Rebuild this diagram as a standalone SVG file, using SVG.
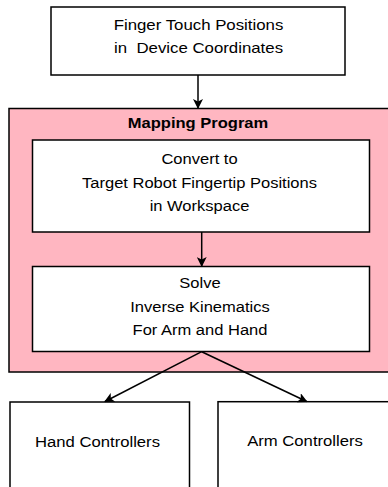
<svg xmlns="http://www.w3.org/2000/svg" width="388" height="487" viewBox="0 0 388 487">
<style>
.box{fill:#fff;stroke:#000;stroke-width:1.5}
.grp{fill:#FFB6C1;stroke:#000;stroke-width:1.5}
.t{font-family:"Liberation Sans",Arial,Helvetica,sans-serif;font-size:14.5px;fill:#000;text-anchor:middle}
.b{font-weight:bold}
.pre{white-space:pre}
.c{fill:none;stroke:#000;stroke-width:1.5}
</style>
<defs>
<marker id="ah" markerWidth="10" markerHeight="10" refX="9" refY="5" orient="auto" markerUnits="userSpaceOnUse">
<path d="M0,0 L10,5 L0,10 L2.5,5 Z" fill="#000"/>
</marker>
</defs>
<g id="mapping">
<rect class="grp" x="9" y="108.5" width="385" height="263.5"/>
<text class="t b" transform="translate(198,128.3) scale(1.14,1)">Mapping Program</text>
</g>
<g id="touch">
<rect class="box" x="51" y="7" width="294" height="68"/>
<text class="t" transform="translate(198.5,29.5) scale(1.16,1)">Finger Touch Positions</text>
<text class="t pre" transform="translate(198.5,53) scale(1.16,1)">in  Device Coordinates</text>
</g>
<g id="convert">
<rect class="box" x="32.5" y="140" width="337" height="92"/>
<text class="t" transform="translate(199.5,164.3) scale(1.14,1)">Convert to</text>
<text class="t" transform="translate(199.5,187.7) scale(1.14,1)">Target Robot Fingertip Positions</text>
<text class="t" transform="translate(199.5,211) scale(1.14,1)">in Workspace</text>
</g>
<g id="solve">
<rect class="box" x="32.5" y="266.5" width="337" height="85"/>
<text class="t" transform="translate(200,287.7) scale(1.14,1)">Solve</text>
<text class="t" transform="translate(200,311.5) scale(1.14,1)">Inverse Kinematics</text>
<text class="t" transform="translate(200,335) scale(1.14,1)">For Arm and Hand</text>
</g>
<g id="hand">
<rect class="box" x="10" y="402" width="179.5" height="100"/>
<text class="t" transform="translate(97.5,447.3) scale(1.15,1)">Hand Controllers</text>
</g>
<g id="arm">
<rect class="box" x="218" y="401.7" width="190" height="100"/>
<text class="t" transform="translate(305,446) scale(1.15,1)">Arm Controllers</text>
</g>
<g id="connectors">
<line class="c" x1="198" y1="75" x2="198" y2="108" marker-end="url(#ah)"/>
<line class="c" x1="201.7" y1="232" x2="201.7" y2="266" marker-end="url(#ah)"/>
<line class="c" x1="201.7" y1="351.7" x2="105" y2="401.5" marker-end="url(#ah)"/>
<line class="c" x1="201.7" y1="351.7" x2="306.7" y2="401.5" marker-end="url(#ah)"/>
</g>
</svg>
